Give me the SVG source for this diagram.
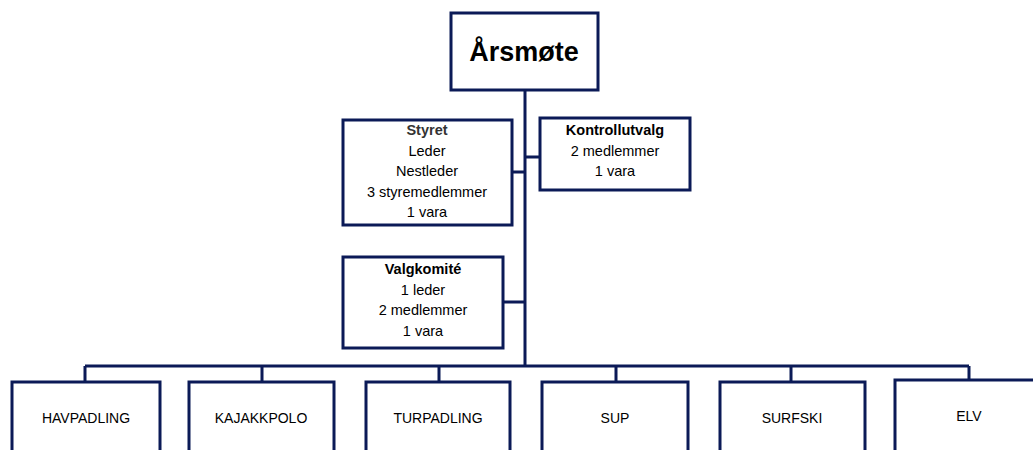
<svg xmlns="http://www.w3.org/2000/svg" width="1033" height="450" viewBox="0 0 1033 450">
<style>
.box{fill:#fff;stroke:#0b1a57;stroke-width:3}
.ln{stroke:#0b1a57;stroke-width:3;fill:none}
text{font-family:"Liberation Sans",Arial,sans-serif;fill:#000;text-anchor:middle}
.t{font-size:14.5px}
.b{font-weight:bold}
.u{font-size:14px}
</style>
<rect width="1033" height="450" fill="#fff"/>
<g id="connectors">
<path class="ln" d="M525 90V366M512 172H525M525 157H540M503 302H525M85 366H969M85 366V382M262 366V382M439 366V382M616 366V382M791 366V382M969 366V382"/>
</g>
<g id="arsmote"><rect class="box" x="451" y="13" width="147" height="77"/><text x="524" y="61" class="b" font-size="27">Årsmøte</text></g>
<g id="styret"><rect class="box" x="343" y="120" width="169" height="105"/>
<text class="t" x="427" y="135"><tspan class="b" fill="#333">Styret</tspan><tspan x="427" dy="20.5">Leder</tspan><tspan x="427" dy="20.5">Nestleder</tspan><tspan x="427" dy="20.5">3 styremedlemmer</tspan><tspan x="427" dy="20.5">1 vara</tspan></text></g>
<g id="kontrollutvalg"><rect class="box" x="540" y="118" width="150" height="72"/>
<text class="t" x="615" y="135"><tspan class="b">Kontrollutvalg</tspan><tspan x="615" dy="20.5">2 medlemmer</tspan><tspan x="615" dy="20.5">1 vara</tspan></text></g>
<g id="valgkomite"><rect class="box" x="343" y="257" width="160" height="91"/>
<text class="t" x="423" y="274"><tspan class="b">Valgkomité</tspan><tspan x="423" dy="20.5">1 leder</tspan><tspan x="423" dy="20.5">2 medlemmer</tspan><tspan x="423" dy="20.5">1 vara</tspan></text></g>
<g id="havpadling"><rect class="box" x="12" y="382" width="148" height="80"/><text class="u" x="86" y="423">HAVPADLING</text></g>
<g id="kajakkpolo"><rect class="box" x="189" y="382" width="145" height="80"/><text class="u" x="261" y="423">KAJAKKPOLO</text></g>
<g id="turpadling"><rect class="box" x="366" y="382" width="144" height="80"/><text class="u" x="438" y="423">TURPADLING</text></g>
<g id="sup"><rect class="box" x="542" y="382" width="146" height="80"/><text class="u" x="615" y="423">SUP</text></g>
<g id="surfski"><rect class="box" x="720" y="382" width="145" height="80"/><text class="u" x="792" y="423">SURFSKI</text></g>
<g id="elv"><rect class="box" x="895" y="380" width="150" height="82"/><text class="u" x="969" y="421">ELV</text></g>
</svg>
